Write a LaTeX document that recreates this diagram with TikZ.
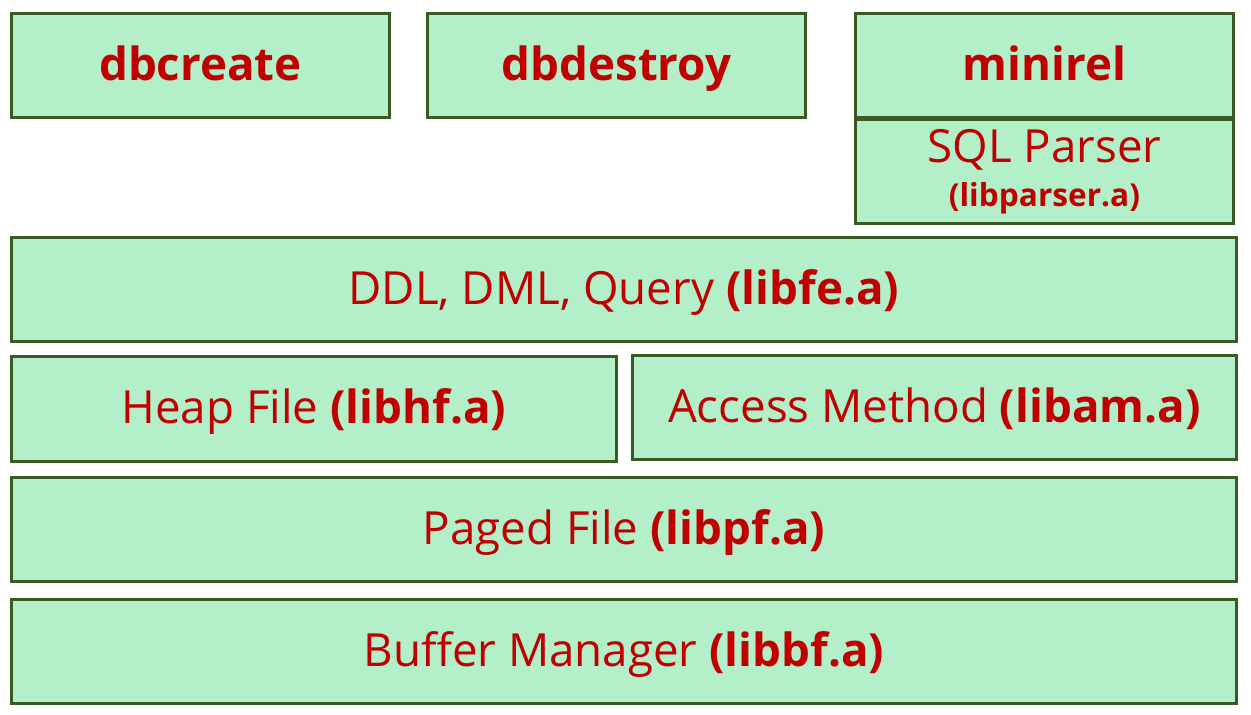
\documentclass[tikz,border=0pt]{standalone}
\usepackage{fontspec}
\setmainfont{Open Sans}[BoldFont={Open Sans Bold}]
\usepackage{xcolor}
\usetikzlibrary{positioning}
\definecolor{boxfill}{HTML}{B3F0CA}
\definecolor{boxline}{HTML}{3A5A24}
\definecolor{libred}{HTML}{C00000}
\tikzset{
    layer/.style={draw=boxline, fill=boxfill, line width=1.6pt, text=libred, inner sep=0pt, anchor=north west, text height=23pt, text depth=6pt, font=\fontsize{26}{30}\selectfont},
    app/.style={layer, font=\fontsize{26}{30}\selectfont\bfseries},
}
\newcommand{\lib}[1]{\textbf{(#1)}}
\begin{document}
\begin{tikzpicture}[x=0.02cm, y=-0.02cm]
    \useasboundingbox (0,0) rectangle (1251,714);
    % Programs
    \node[app, minimum width=378*0.02cm, minimum height=104*0.02cm] (dbcreate) at (10,12) {dbcreate};
    \node[app, minimum width=378*0.02cm, minimum height=104*0.02cm] (dbdestroy) at (426,12) {dbdestroy};
    \node[app, minimum width=378*0.02cm, minimum height=104*0.02cm] (minirel) at (854,12) {minirel};
    \node[layer, minimum width=378*0.02cm, minimum height=104*0.02cm, text height=, text depth=, align=center, font=\fontsize{26}{28}\selectfont] (parser) at (854,118) {SQL Parser\\[-3pt]{\fontsize{18}{19}\selectfont\lib{libparser.a}}};

    % Libraries
    \node[layer, minimum width=1225*0.02cm, minimum height=104*0.02cm] (fe) at (10,236) {DDL, DML, Query \lib{libfe.a}};
    \node[layer, minimum width=605*0.02cm, minimum height=105*0.02cm] (hf) at (10,355) {Heap File \lib{libhf.a}};
    \node[layer, minimum width=604*0.02cm, minimum height=104*0.02cm] (am) at (631,354) {Access Method \lib{libam.a}};
    \node[layer, minimum width=1225*0.02cm, minimum height=104*0.02cm] (pf) at (10,476) {Paged File \lib{libpf.a}};
    \node[layer, minimum width=1225*0.02cm, minimum height=104*0.02cm] (bf) at (10,598) {Buffer Manager \lib{libbf.a}};
\end{tikzpicture}
\end{document}
